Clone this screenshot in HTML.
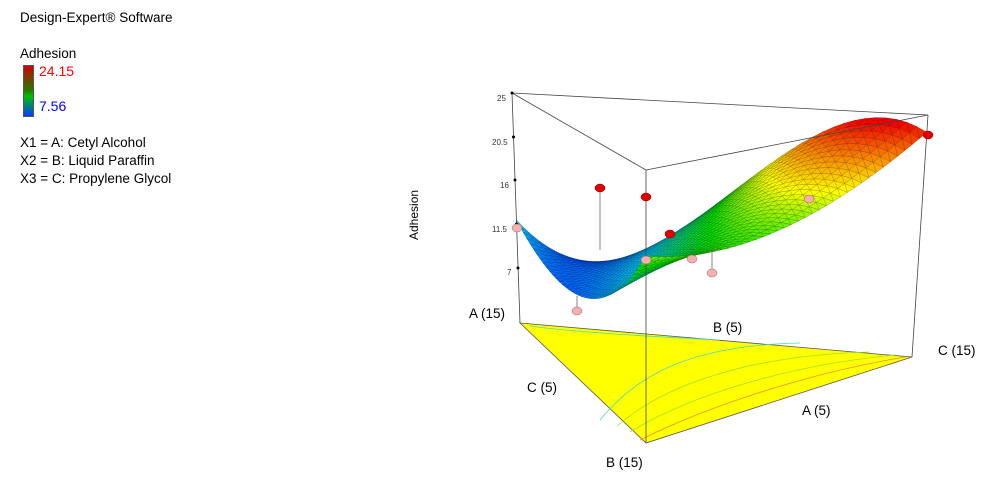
<!DOCTYPE html>
<html><head><meta charset="utf-8"><style>
body{margin:0;background:#fff;width:992px;height:486px;overflow:hidden;font-family:"Liberation Sans",sans-serif}
.t{position:absolute;font-size:13.5px;color:#000;white-space:nowrap}
</style></head><body>
<div class="t" style="left:20px;top:10px">Design-Expert® Software</div>
<div class="t" style="left:20px;top:46px">Adhesion</div>
<div style="position:absolute;left:23px;top:65px;width:11px;height:52px;border:1px solid #555;box-sizing:border-box;background:linear-gradient(#d00000,#208000 50%,#00c000 60%,#0040ff)"></div>
<div class="t" style="left:39px;top:63px;color:#f00;font-size:14px">24.15</div>
<div class="t" style="left:39px;top:98px;color:#00f;font-size:14px">7.56</div>
<div class="t" style="left:20px;top:135px">X1 = A: Cetyl Alcohol</div>
<div class="t" style="left:20px;top:153px">X2 = B: Liquid Paraffin</div>
<div class="t" style="left:20px;top:171px">X3 = C: Propylene Glycol</div>
<svg id="s" width="992" height="486" style="position:absolute;left:0;top:0" xmlns="http://www.w3.org/2000/svg" font-family="Liberation Sans, sans-serif">
<polygon points="520,323 912,357 646,443" fill="#ffff00" stroke="#555" stroke-width="0.8"/>
<path d="M530,326 C560,330 600,334 720,340" stroke="#4fd8c0" fill="none" stroke-width="0.8"/>
<path d="M600,420 C640,370 700,345 800,343" stroke="#4fd8c0" fill="none" stroke-width="0.8"/>
<path d="M617,426 C670,380 760,355 870,352" stroke="#9ee030" fill="none" stroke-width="0.8"/>
<path d="M630,432 C690,395 790,365 895,355" stroke="#9ee030" fill="none" stroke-width="0.8"/>
<path d="M640,440 C710,405 810,373 905,357" stroke="#f09030" fill="none" stroke-width="0.8"/>
<g stroke="#444" stroke-width="0.8" fill="none">
<line x1="512" y1="93" x2="520" y2="323"/>
<line x1="928" y1="115" x2="912" y2="357"/>
<line x1="512" y1="93" x2="928" y2="115"/>
<line x1="512" y1="93" x2="646" y2="170"/>
</g>
<g font-size="8" fill="#333">
<text x="497" y="101">25</text><text x="492" y="145">20.5</text><text x="500" y="188">16</text><text x="492" y="232">11.5</text><text x="507" y="275">7</text>
</g>
<g fill="#000"><circle cx="512" cy="93" r="1.5"/><circle cx="513.5" cy="137" r="1.5"/><circle cx="515" cy="180" r="1.5"/><circle cx="516.5" cy="224" r="1.5"/><circle cx="518" cy="268" r="1.5"/></g>
<text x="418" y="240" font-size="12" transform="rotate(-90 418 240)">Adhesion</text>
<g font-size="13.5">
<text x="469" y="318">A (15)</text><text x="713" y="332">B (5)</text><text x="938" y="355">C (15)</text>
<text x="527" y="392">C (5)</text><text x="802" y="415">A (5)</text><text x="606" y="467">B (15)</text>
</g>
<g id="surf"></g>
<g id="front" stroke="#444" stroke-width="0.8" fill="none">
<line x1="646" y1="170" x2="928" y2="115"/>
<line x1="646" y1="170" x2="646" y2="443"/>
</g>
<g stroke="#666" stroke-width="0.8">
<line x1="577" y1="311" x2="577" y2="296"/><line x1="600" y1="188" x2="600" y2="250"/>
<line x1="692" y1="259" x2="692" y2="245"/><line x1="712" y1="273" x2="712" y2="247"/>
</g>
<g fill="#f4b0b0" stroke="#a06060" stroke-width="0.5">
<ellipse cx="517" cy="228" rx="5" ry="4"/><ellipse cx="577" cy="311" rx="5" ry="4"/>
<ellipse cx="646" cy="260" rx="5" ry="4"/><ellipse cx="692" cy="259" rx="5" ry="4"/>
<ellipse cx="712" cy="273" rx="5" ry="4"/><ellipse cx="809" cy="199" rx="5" ry="4"/>
</g>
<g fill="#e00000" stroke="#800" stroke-width="0.5">
<ellipse cx="600" cy="188" rx="5" ry="4"/><ellipse cx="646" cy="197" rx="5" ry="4"/>
<ellipse cx="670" cy="234" rx="5" ry="4"/><ellipse cx="928" cy="135" rx="5" ry="4"/>
</g>
</svg>
<script>
(function(){
var Ab=[520,323],Bb=[646,443],Cb=[912,357],At=[512,93],Bt=[646,170],Ct=[928,115];
function z(a,b,c){return 11.9*a+17.5*b+23.3*c-21*a*b+a*c*(-10-45*(a-c))-13*b*c+60*a*b*c;}
function P(a,b,c){var zz=z(a,b,c),t=(zz-1.3)/23.7;
var bx=a*Ab[0]+b*Bb[0]+c*Cb[0],by=a*Ab[1]+b*Bb[1]+c*Cb[1];
var tx=a*At[0]+b*Bt[0]+c*Ct[0],ty=a*At[1]+b*Bt[1]+c*Ct[1];
return [bx+t*(tx-bx),by+t*(ty-by),by,zz];}
function col(v){var f=(v-7.56)/(24.15-7.56);f=Math.max(0,Math.min(1,f));
var s=[[0,[0,40,255]],[0.25,[0,200,255]],[0.5,[0,230,0]],[0.7,[255,255,0]],[1,[240,0,0]]];
for(var i=0;i<4;i++){if(f<=s[i+1][0]){var u=(f-s[i][0])/(s[i+1][0]-s[i][0]);var a=s[i][1],b=s[i+1][1];
return [0,1,2].map(function(k){return Math.round(a[k]+(b[k]-a[k])*u)});}}return [240,0,0];}
var N=40,tris=[];
function add(p){var d=(p[0][2]+p[1][2]+p[2][2])/3,zz=(p[0][3]+p[1][3]+p[2][3])/3;tris.push([d,p,zz]);}
for(var i=0;i<N;i++)for(var j=0;j<N-i;j++){
var a=function(i,j){return P(1-(i+j)/N,i/N,j/N)};
add([a(i,j),a(i+1,j),a(i,j+1)]);
if(i+j<N-1)add([a(i+1,j),a(i+1,j+1),a(i,j+1)]);}
tris.sort(function(x,y){return x[0]-y[0]});
var h='';tris.forEach(function(t){var c=col(t[2]);var d=c.map(function(v){return Math.round(v*0.55)});
h+='<polygon points="'+t[1].map(function(p){return p[0].toFixed(1)+','+p[1].toFixed(1)}).join(' ')+'" fill="rgb('+c+')" stroke="rgb('+d+')" stroke-width="0.35"/>';});
document.getElementById('surf').innerHTML=h;
})();
</script>
</body></html>
